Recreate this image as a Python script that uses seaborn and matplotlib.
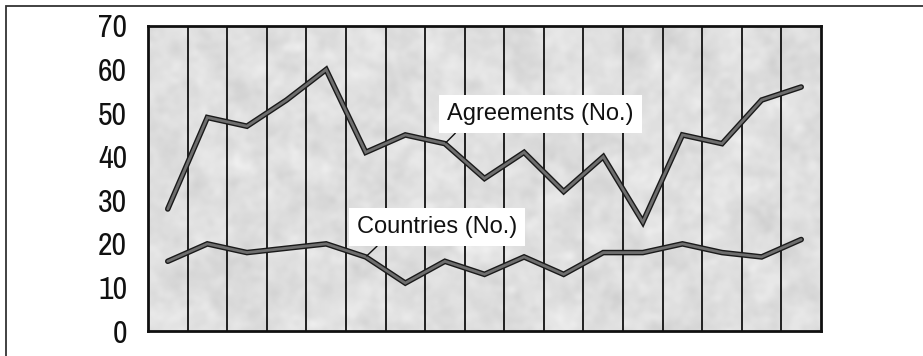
import numpy as np
import pandas as pd
import matplotlib
matplotlib.use("Agg")
import matplotlib.pyplot as plt
import matplotlib.patheffects as pe
from matplotlib import font_manager as fm
import seaborn as sns
from matplotlib.patches import Rectangle

# Yearly series (17 periods)
periods = list(range(1, 18))
agreements = [28, 49, 47, 53, 60, 41, 45, 43, 35, 41, 32, 40, 25, 45, 43, 53, 56]
countries = [16, 20, 18, 19, 20, 17, 11, 16, 13, 17, 13, 18, 18, 20, 18, 17, 21]
series_names = ["Agreements (No.)", "Countries (No.)"]
y_ticks = [0, 10, 20, 30, 40, 50, 60, 70]

df = pd.DataFrame({
    "period": periods * 2,
    "value": agreements + countries,
    "series": [series_names[0]] * len(periods) + [series_names[1]] * len(periods),
})

sns.set_theme(style="white")
plt.rcParams["font.family"] = ["Liberation Sans", "DejaVu Sans"]

# prefer a narrow sans face for the axis numbers when one is installed
narrow = None
for f in fm.fontManager.ttflist:
    nm = f.name
    if ("Narrow" in nm or "Condensed" in nm) and "Mono" not in nm and "Serif" not in nm:
        narrow = nm
        break
if narrow is None:
    for f in fm.fontManager.ttflist:
        if f.stretch in ("condensed", "semi-condensed", "extra-condensed") and "Mono" not in f.name:
            narrow = f.name
            break
tick_family = [narrow, "Liberation Sans"] if narrow else ["Liberation Sans"]
tick_size = 23 if narrow else 20

fig = plt.figure(figsize=(9.23, 3.56), dpi=100)
ax = fig.add_axes([0.1603, 0.0702, 0.7292, 0.8568])

# mottled grey paper texture behind the plot
rng = np.random.default_rng(3)
noise = rng.normal(size=(200, 420))
k = np.fft.fftfreq(200)[:, None] ** 2 + np.fft.fftfreq(420)[None, :] ** 2
smooth = np.real(np.fft.ifft2(np.fft.fft2(noise) * np.exp(-k * 500)))
smooth = (smooth - smooth.mean()) / smooth.std()
fine = rng.normal(size=(200, 420))
fine = np.real(np.fft.ifft2(np.fft.fft2(fine) * np.exp(-k * 60)))
fine = (fine - fine.mean()) / fine.std()
tex = 0.875 + 0.014 * smooth + 0.010 * fine
ax.imshow(tex, cmap="gray", vmin=0, vmax=1, aspect="auto",
          extent=[0, 1, 0, 1], transform=ax.transAxes, zorder=0,
          interpolation="bicubic")

sns.lineplot(data=df, x="period", y="value", hue="series",
             palette=["#6e6e6e", "#6e6e6e"], linewidth=2.0,
             legend=False, ax=ax, zorder=3)
for line in ax.get_lines():
    line.set_path_effects([pe.Stroke(linewidth=4.0, foreground="#1a1a1a"),
                           pe.Normal()])
    line.set_solid_joinstyle("miter")

ax.set_xlim(0.5, len(periods) + 0.5)
ax.set_ylim(0, 70)
for b in np.arange(1.5, len(periods) + 0.5, 1.0):
    ax.axvline(b, color="#111111", linewidth=1.3, zorder=2)

ax.set_xticks([])
ax.set_yticks(y_ticks)
ax.set_yticklabels([str(t) for t in y_ticks], family=tick_family,
                   fontsize=tick_size, color="#111111")
ax.tick_params(axis="y", length=0, pad=15)
ax.set_xlabel("")
ax.set_ylabel("")
for s in ax.spines.values():
    s.set_color("#111111")
    s.set_linewidth(2.0)
    s.set_zorder(4)

box = dict(boxstyle="square,pad=0.35", facecolor="white", edgecolor="none")
ax.annotate(series_names[0], xy=(8, agreements[7]), xytext=(10.42, 49.8),
            fontsize=17, ha="center", va="center", bbox=box, zorder=5,
            color="#111111",
            arrowprops=dict(arrowstyle="-", color="#111111", lw=1.0,
                            shrinkA=0, shrinkB=1, relpos=(0.086, 0.0)))
ax.annotate(series_names[1], xy=(6, countries[5]), xytext=(7.8, 23.9),
            fontsize=17, ha="center", va="center", bbox=box, zorder=5,
            color="#111111",
            arrowprops=dict(arrowstyle="-", color="#111111", lw=1.0,
                            shrinkA=0, shrinkB=1, relpos=(0.18, 0.0)))

# outer frame
fig.patches.append(Rectangle((6 / 923, -0.05), 1.0, 1 - 5.5 / 356 + 0.05,
                             transform=fig.transFigure, fill=False,
                             edgecolor="#333333", linewidth=1.3))

fig.savefig("out.png", dpi=100)
